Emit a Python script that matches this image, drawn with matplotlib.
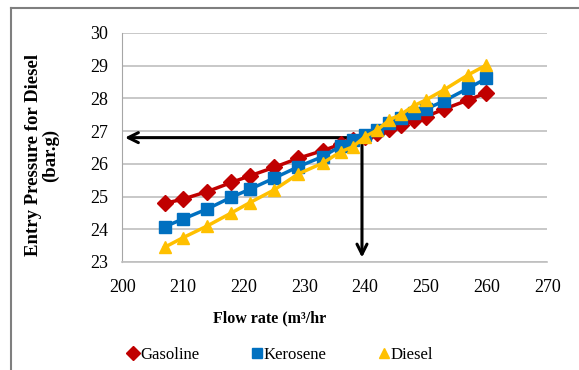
import matplotlib.pyplot as plt
from matplotlib.lines import Line2D

# Flow rate (m3/hr) and entry pressure (bar.g)
flow = [207, 210, 214, 218, 221, 225, 229, 233, 236, 238, 240,
        242, 244, 246, 248, 250, 253, 257, 260]
gasoline = [24.79, 24.92, 25.15, 25.43, 25.63, 25.89, 26.17, 26.40, 26.60, 26.73, 26.83,
            26.93, 27.05, 27.19, 27.34, 27.44, 27.67, 27.95, 28.17]
kerosene = [24.08, 24.31, 24.62, 24.98, 25.22, 25.56, 25.91, 26.22, 26.54, 26.73, 26.88,
            27.03, 27.26, 27.39, 27.54, 27.67, 27.92, 28.31, 28.61]
diesel = [23.45, 23.74, 24.10, 24.50, 24.81, 25.20, 25.69, 26.02, 26.37, 26.52, 26.83,
          27.03, 27.34, 27.52, 27.77, 27.95, 28.26, 28.72, 29.02]

x_ticks = [200, 210, 220, 230, 240, 250, 260, 270]
y_ticks = [23, 24, 25, 26, 27, 28, 29, 30]
op_flow, op_pressure = 239.5, 26.8

series = [
    ('Gasoline', gasoline, '#C00000', 'D', 8.5),
    ('Kerosene', kerosene, '#0070C0', 's', 8),
    ('Diesel', diesel, '#FFC000', '^', 9),
]

plt.rcParams['font.family'] = ['Liberation Serif', 'DejaVu Serif']

fig = plt.figure(figsize=(5.79, 3.70), dpi=100)
ax = fig.add_axes([0.211, 0.292, 0.734, 0.619])

for name, vals, color, marker, ms in series:
    ax.plot(flow, vals, color=color, lw=2.5, marker=marker, markersize=ms, zorder=3)

# operating point arrows
ax.annotate('', xy=(200, op_pressure), xytext=(op_flow, op_pressure),
            arrowprops=dict(arrowstyle='->', lw=2.2, color='black', mutation_scale=18),
            zorder=2)
ax.annotate('', xy=(op_flow, 23.05), xytext=(op_flow, op_pressure),
            arrowprops=dict(arrowstyle='->', lw=2.2, color='black', mutation_scale=18),
            zorder=2)

ax.set_xlim(200, 270)
ax.set_ylim(23, 30)
ax.set_xticks(x_ticks)
ax.set_yticks(y_ticks)
ax.tick_params(length=0, labelsize=13)
ax.tick_params(axis='x', pad=12)
ax.tick_params(axis='y', pad=10)
ax.grid(axis='y', color='#BFBFBF', lw=1.2)
ax.set_axisbelow(True)
for s in ['top', 'right']:
    ax.spines[s].set_visible(False)
ax.spines['left'].set_color('#A6A6A6')
ax.spines['bottom'].set_color('#BFBFBF')
ax.spines['bottom'].set_linewidth(1.2)

fig.text(270 / 579, 1 - 318 / 370, 'Flow rate (m³/hr', fontsize=11.5, fontweight='bold',
         ha='center', va='center')
fig.text(42 / 579, 1 - 155 / 370, 'Entry Pressure for Diesel\n(bar.g)', fontsize=13.5,
         fontweight='bold', rotation=90, ha='center', va='center', multialignment='center',
         linespacing=0.92)

handles = [Line2D([], [], ls='none', marker=m, color=c, markersize=ms * 0.85)
           for _, _, c, m, ms in series]
fig.legend(handles, [s[0] for s in series], loc='center', bbox_to_anchor=(281 / 579, 0.04),
           ncol=3, frameon=False, fontsize=12, handlelength=0.5, handletextpad=0.15,
           columnspacing=3.2)

# outer frame (top and left edges)
fig.add_artist(Line2D([11 / 579, 11 / 579], [0, 1 - 8 / 370], color='#7F7F7F', lw=1.5))
fig.add_artist(Line2D([11 / 579, 1], [1 - 8 / 370, 1 - 8 / 370], color='#7F7F7F', lw=1.5))

fig.savefig('out.png', dpi=100)
